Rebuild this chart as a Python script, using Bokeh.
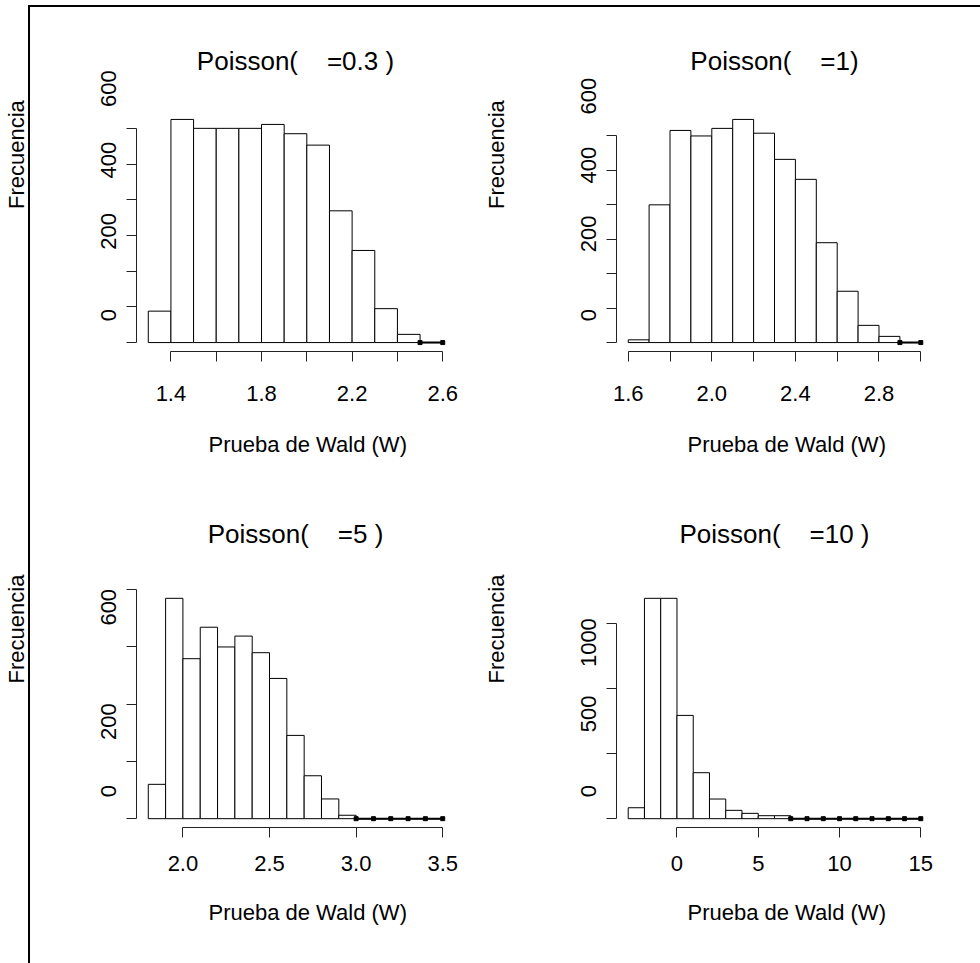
import numpy as np
from bokeh.plotting import figure
from bokeh.layouts import gridplot
from bokeh.models import Range1d, FixedTicker
from bokeh.embed import file_html
from bokeh.resources import INLINE

# ---------------- data ----------------
# Panel 1: Poisson(lambda = 0.3)
lam1 = "0.3"
edges1 = [1.3, 1.4, 1.5, 1.6, 1.7, 1.8, 1.9, 2.0, 2.1, 2.2, 2.3, 2.4, 2.5, 2.6]
counts1 = [88, 625, 600, 600, 600, 611, 585, 553, 369, 258, 95, 23, 0]
xticks1 = [1.4, 1.6, 1.8, 2.0, 2.2, 2.4, 2.6]
xlabels1 = ["1.4", "", "1.8", "", "2.2", "", "2.6"]
yticks1 = [0, 100, 200, 300, 400, 500, 600]
ylabels1 = ["0", "", "200", "", "400", "", "600"]

# Panel 2: Poisson(lambda = 1)
lam2 = "1"
edges2 = [1.6, 1.7, 1.8, 1.9, 2.0, 2.1, 2.2, 2.3, 2.4, 2.5, 2.6, 2.7, 2.8, 2.9, 3.0]
counts2 = [8, 400, 616, 600, 622, 648, 608, 532, 474, 290, 149, 50, 18, 0]
xticks2 = [1.6, 1.8, 2.0, 2.2, 2.4, 2.6, 2.8, 3.0]
xlabels2 = ["1.6", "", "2.0", "", "2.4", "", "2.8", ""]
yticks2 = [0, 100, 200, 300, 400, 500, 600]
ylabels2 = ["0", "", "200", "", "400", "", "600"]

# Panel 3: Poisson(lambda = 5)
lam3 = "5"
edges3 = [1.8, 1.9, 2.0, 2.1, 2.2, 2.3, 2.4, 2.5, 2.6, 2.7, 2.8, 2.9, 3.0,
          3.1, 3.2, 3.3, 3.4, 3.5]
counts3 = [120, 770, 559, 669, 600, 638, 580, 490, 291, 150, 69, 12, 0, 0, 0, 0, 0]
xticks3 = [2.0, 2.5, 3.0, 3.5]
xlabels3 = ["2.0", "2.5", "3.0", "3.5"]
yticks3 = [0, 200, 400, 600, 800]
ylabels3 = ["0", "200", "", "600", ""]

# Panel 4: Poisson(lambda = 10)
lam4 = "10"
edges4 = [-3, -2, -1, 0, 1, 2, 3, 4, 5, 6, 7, 8, 9, 10, 11, 12, 13, 14, 15]
counts4 = [84, 1692, 1692, 793, 353, 151, 64, 41, 23, 23, 0, 0, 0, 0, 0, 0, 0, 0]
xticks4 = [0, 5, 10, 15]
xlabels4 = ["0", "5", "10", "15"]
yticks4 = [0, 500, 1000, 1500]
ylabels4 = ["0", "500", "1000", ""]

x_title = "Prueba de Wald (W)"
y_title = "Frecuencia"

# ---------------- style / layout constants ----------------
FONT = "Liberation Sans"
FSPX = 22
FS = f"{FSPX}px"
TFS = "26px"
NB = "\u00a0"
NBW = 0.278 * FSPX          # width of a no-break space (Arial metrics)
DIGW = 0.556 * FSPX         # width of a digit
FREW = 4.946 * FSPX         # width of "Frecuencia"

ROW = {
    0: dict(height=470, top=110, bottom=119, tstand=70, fre_up=21, std=24, als=28),
    1: dict(height=493, top=119, bottom=136, tstand=82, fre_up=26, std=18, als=26),
}
COL = {
    0: dict(width=480, left=134, right=26),
    1: dict(width=500, left=134, right=48),
}


def lead_pad(shift_px, text_w):
    """leading no-break spaces so that a centred rotated text starts shift_px past the anchor"""
    return NB * int(round((2 * shift_px + text_w) / NBW))


def panel(edges, counts, xticks, xlabels, yticks, ylabels, lam, row, col):
    e = np.array(edges, dtype=float)
    c = np.array(counts, dtype=float)
    M = c.max()
    dx = 0.04 * (e[-1] - e[0])
    xs, xe = e[0] - dx, e[-1] + dx
    ys, ye = -0.04 * M, 1.04 * M
    r, k = ROW[row], COL[col]
    title = "Poisson(" + NB * 4 + "=" + lam + (")" if lam == "1" else NB + ")")
    p = figure(width=k["width"], height=r["height"],
               x_range=Range1d(xs, xe), y_range=Range1d(ys, ye),
               output_backend="svg", toolbar_location=None, tools="",
               title=title,
               min_border_left=k["left"], min_border_right=k["right"],
               min_border_top=r["top"], min_border_bottom=r["bottom"])
    p.background_fill_color = None
    p.border_fill_color = None
    p.outline_line_color = None
    p.xgrid.grid_line_color = None
    p.ygrid.grid_line_color = None

    p.title.align = "center"
    p.title.text_font = FONT
    p.title.text_font_size = TFS
    p.title.text_font_style = "normal"
    p.title.text_color = "black"
    p.title.standoff = r["tstand"]

    # histogram bars
    p.quad(left=e[:-1], right=e[1:], bottom=0, top=c,
           fill_color="white", line_color="black", line_width=1)
    zero = c == 0
    if zero.any():
        p.segment(x0=e[:-1][zero], y0=0, x1=e[1:][zero], y1=0,
                  line_color="black", line_width=2)
        zedges = sorted(set(e[:-1][zero]) | set(e[1:][zero]))
        p.scatter(x=zedges, y=[0] * len(zedges), marker="square", size=4,
                  color="black")

    # x axis (R style: only between first and last tick)
    xa = p.xaxis[0]
    xa.ticker = FixedTicker(ticks=xticks)
    xa.bounds = (xticks[0], xticks[-1])
    xa.major_label_overrides = {t: s for t, s in zip(xticks, xlabels)}
    xa.major_tick_out = 10
    xa.major_tick_in = 0
    xa.minor_tick_line_color = None
    xa.axis_line_color = "#222222"
    xa.major_tick_line_color = "#222222"
    xa.major_label_text_font = FONT
    xa.major_label_text_font_size = FS
    xa.major_label_text_color = "black"
    xa.major_label_standoff = r["std"]
    xa.axis_label = NB * 4 + x_title
    xa.axis_label_text_font = FONT
    xa.axis_label_text_font_size = FS
    xa.axis_label_text_font_style = "normal"
    xa.axis_label_text_color = "black"
    xa.axis_label_standoff = r["als"]

    # y axis: rotated labels that start ~20 px above their tick
    ya = p.yaxis[0]
    ya.ticker = FixedTicker(ticks=yticks)
    ya.bounds = (yticks[0], yticks[-1])
    ya.major_label_overrides = {t: (lead_pad(20, len(s) * DIGW) + s if s else "")
                                for t, s in zip(yticks, ylabels)}
    ya.major_label_orientation = "vertical"
    ya.major_tick_out = 10
    ya.major_tick_in = 0
    ya.minor_tick_line_color = None
    ya.axis_line_color = "#222222"
    ya.major_tick_line_color = "#222222"
    ya.major_label_text_font = FONT
    ya.major_label_text_font_size = FS
    ya.major_label_text_color = "black"
    ya.major_label_standoff = 5
    ya.axis_label = lead_pad(r["fre_up"], FREW) + y_title
    ya.axis_label_text_font = FONT
    ya.axis_label_text_font_size = FS
    ya.axis_label_text_font_style = "normal"
    ya.axis_label_text_color = "black"
    ya.axis_label_standoff = 65
    return p


p1 = panel(edges1, counts1, xticks1, xlabels1, yticks1, ylabels1, lam1, 0, 0)
p2 = panel(edges2, counts2, xticks2, xlabels2, yticks2, ylabels2, lam2, 0, 1)
p3 = panel(edges3, counts3, xticks3, xlabels3, yticks3, ylabels3, lam3, 1, 0)
p4 = panel(edges4, counts4, xticks4, xlabels4, yticks4, ylabels4, lam4, 1, 1)

grid = gridplot([[p1, p2], [p3, p4]], toolbar_location=None)
grid.styles = {
    "background-color": "white",
    "background-image": "linear-gradient(#000,#000), linear-gradient(#000,#000)",
    "background-size": "2px 100%, 100% 2px",
    "background-position": "28px 5px, 28px 5px",
    "background-repeat": "no-repeat",
}

open("out.html", "w").write(file_html(grid, INLINE))
